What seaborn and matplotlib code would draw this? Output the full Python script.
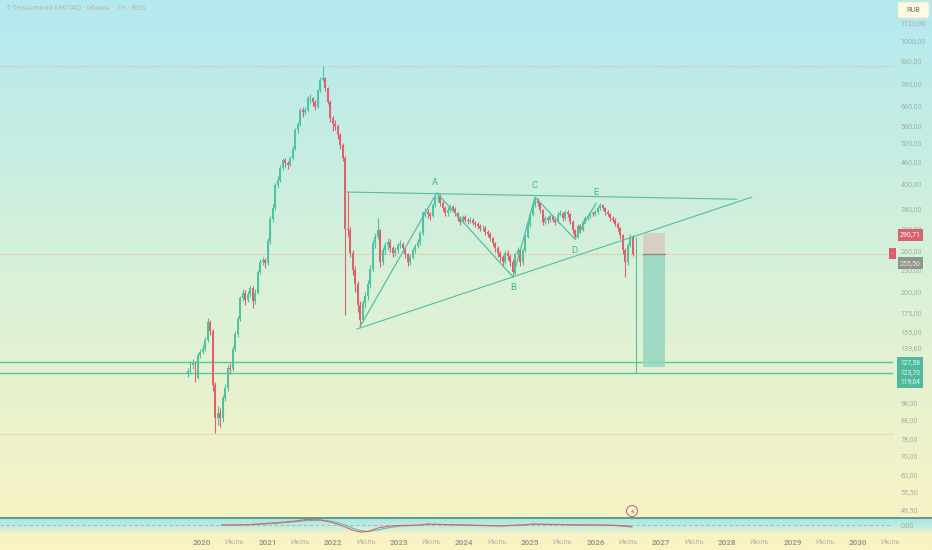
import numpy as np
import pandas as pd
import matplotlib
matplotlib.use("Agg")
import matplotlib.pyplot as plt
import matplotlib.dates as mdates
from matplotlib.colors import LinearSegmentedColormap
from matplotlib.patches import Circle, FancyBboxPatch
from matplotlib.ticker import NullLocator
import seaborn as sns

# ---- price data (2-week candles) ----
first_date = "2019-10-15"
last_date = "2026-07-27"
first_open = 118
closes = [120, 125, 127, 115, 133, 136, 139, 147, 165, 156,
          110, 89, 92, 89, 101, 108, 123, 122, 139, 153,
          168, 192, 199, 190, 197, 205, 188, 199, 227, 242,
          245, 240, 277, 319, 342, 396, 410, 442, 465, 457,
          452, 472, 500, 563, 585, 641, 634, 641, 691, 691,
          675, 654, 729, 777, 786, 738, 675, 609, 585, 578,
          546, 511, 472, 300, 297, 256, 230, 210, 184, 167,
          186, 195, 210, 232, 273, 285, 297, 242, 261, 270,
          275, 264, 256, 261, 270, 272, 264, 254, 242, 250,
          261, 268, 275, 291, 331, 333, 329, 325, 349, 365,
          367, 353, 342, 331, 338, 344, 340, 331, 320, 313,
          323, 317, 315, 317, 311, 309, 305, 301, 301, 293,
          290, 282, 273, 264, 256, 250, 242, 257, 251, 242,
          227, 254, 261, 242, 261, 285, 307, 328, 349, 360,
          353, 338, 313, 320, 317, 325, 317, 313, 328, 331,
          320, 333, 329, 313, 297, 285, 305, 297, 313, 320,
          325, 331, 329, 333, 342, 349, 342, 333, 329, 320,
          317, 309, 301, 287, 261, 242, 270, 284, 255.5]
highs = [123, 128, 130, 128, 135, 139, 142, 150, 169, 167,
         158, 112, 96, 95, 103, 111, 125, 127, 141, 156,
         171, 195, 204, 202, 201, 209, 207, 203, 230, 246,
         250, 249, 282, 325, 350, 402, 420, 450, 472, 470,
         462, 478, 508, 570, 595, 650, 655, 652, 700, 712,
         698, 682, 736, 790, 850, 792, 745, 682, 618, 600,
         585, 552, 518, 478, 379, 302, 262, 236, 214, 188,
         190, 200, 215, 238, 278, 292, 320, 300, 266, 276,
         282, 280, 268, 266, 274, 278, 276, 267, 257, 254,
         265, 272, 280, 296, 336, 342, 340, 334, 354, 370,
         377, 375, 358, 346, 344, 350, 348, 344, 334, 324,
         327, 327, 321, 322, 320, 315, 313, 309, 306, 304,
         297, 293, 285, 276, 268, 260, 253, 262, 261, 254,
         246, 258, 266, 263, 265, 290, 312, 334, 354, 367,
         364, 356, 341, 326, 325, 330, 328, 321, 333, 337,
         334, 338, 337, 332, 316, 300, 309, 308, 317, 325,
         329, 335, 335, 338, 347, 353, 352, 345, 337, 332,
         324, 320, 312, 303, 289, 264, 274, 290, 287]
lows = [116, 118, 122, 112, 114, 131, 134, 137, 145, 152,
        106, 81, 85, 84, 87, 99, 106, 118, 120, 137,
        150, 166, 188, 184, 187, 194, 180, 185, 197, 224,
        238, 233, 238, 272, 312, 338, 390, 405, 436, 445,
        440, 447, 466, 495, 555, 578, 615, 625, 635, 672,
        660, 640, 650, 722, 770, 725, 665, 595, 560, 565,
        532, 500, 462, 172, 285, 250, 222, 200, 176, 160,
        165, 180, 190, 205, 228, 265, 280, 235, 238, 255,
        262, 258, 250, 252, 257, 265, 258, 248, 236, 238,
        246, 256, 264, 270, 288, 322, 320, 316, 322, 344,
        356, 347, 336, 325, 326, 333, 334, 326, 314, 307,
        310, 312, 309, 310, 306, 303, 299, 296, 295, 288,
        284, 277, 268, 258, 250, 244, 236, 239, 245, 236,
        220, 224, 250, 236, 238, 258, 282, 303, 324, 345,
        346, 332, 306, 308, 311, 313, 312, 307, 310, 324,
        315, 317, 323, 308, 292, 280, 283, 292, 295, 310,
        316, 321, 324, 326, 330, 338, 337, 328, 324, 315,
        312, 304, 296, 281, 255, 220, 238, 266, 252]

# ---- drawings ----
tri_top_dates = ["2022-03-18", "2028-02-26"]
tri_top_prices = [379, 362]
tri_bot_dates = ["2022-05-13", "2028-05-20"]
tri_bot_prices = [157.5, 367]
wave_dates = ["2022-05-30", "2023-07-31", "2024-09-27", "2025-01-28", "2025-09-08", "2026-01-03"]
wave_prices = [160, 377, 220, 367, 280, 353]
wave_labels = ["A", "B", "C", "D", "E"]
label_dates = ["2023-07-20", "2024-09-27", "2025-01-23", "2025-09-03", "2026-01-03"]
label_prices = [402, 205, 394, 260, 379]

ath_level = 850
low_level = 80.3
last_price = 255.5
support_levels = [127.58, 119.04]
stop_price = 290.71
entry_price = 255.5
target_price = 123.70
pos_dates = ["2026-09-21", "2027-01-22"]
drop_date = "2026-08-13"
drop_prices = [284, 119.04]

price_ticks = [1120, 1000, 880, 760, 660, 580, 520, 460, 400, 340, 300, 260,
               230, 200, 175, 155, 139.6, 98, 88, 78, 70, 62, 55.5, 49.5]

# ---- oscillator pane ----
osc_dates = ["2020-04-20", "2020-07-01", "2020-09-24", "2020-12-17", "2021-03-11",
             "2021-06-03", "2021-08-08", "2021-10-20", "2021-12-15", "2022-01-22",
             "2022-03-08", "2022-04-16", "2022-05-30", "2022-07-14", "2022-09-06",
             "2022-11-13", "2023-01-08", "2023-04-28", "2023-06-06", "2023-08-17",
             "2023-12-06", "2024-03-27", "2024-07-16", "2024-11-04", "2025-01-17",
             "2025-04-20", "2025-10-04", "2026-01-25", "2026-04-20", "2026-07-22"]
osc_macd = [0, 0, 0.5, 1.5, 2.5, 4, 5.5, 5, 3, 1, -2, -5, -7, -6.5, -3,
            -1, -0.5, 0, 1, 0.5, 0, -0.5, -1, 0, 1, 0.5, 0, 0, -0.5, -2]
osc_signal = [0, 0, 0.3, 1, 2, 3.2, 4.5, 5, 4, 2.5, 0, -3, -5.5, -6.5, -5,
              -2.5, -1, -0.3, 0.5, 0.6, 0.2, -0.3, -0.8, -0.3, 0.6, 0.7, 0.2, 0, -0.2, -1]

title = "Т-Технологии МКПАО · обыкн. · 1H · RUS"

UP = "#4fc3a1"
DOWN = "#e0606e"
TEAL = "#52c0a2"

sns.set_style("white")
plt.rcParams["font.family"] = ["Roboto", "DejaVu Sans"]


def dn(s):
    return mdates.date2num(pd.Timestamp(s))


fig = plt.figure(figsize=(9.32, 5.5), dpi=100)

# background gradient + decorations in pixel space
bg = fig.add_axes([0, 0, 1, 1], zorder=0)
bg_cmap = LinearSegmentedColormap.from_list("bg", ["#b3e9f0", "#d8f1d8", "#fcf3c2"])
bg.imshow(np.linspace(0, 1, 256).reshape(-1, 1), cmap=bg_cmap, extent=(0, 932, 550, 0), aspect="auto")
band_cmap = LinearSegmentedColormap.from_list("band", ["#a9e5e6", "#c2ecdf", "#fcf3c2"])
bg.imshow(np.linspace(0, 1, 64).reshape(-1, 1), cmap=band_cmap, extent=(0, 932, 535, 518), aspect="auto")
bg.plot([0, 932], [517.5, 517.5], color="#5e9c8e", lw=1.4)
bg.text(6, 8, title, fontsize=5.3, color="#c2b79f", va="center", ha="left")
bg.add_patch(FancyBboxPatch((898, 2), 31, 16, boxstyle="round,pad=0,rounding_size=2",
                            fc="#fffbe3", ec="#eee8c4", lw=0.6))
bg.text(913.5, 10.5, "RUB", fontsize=5.2, color="#70705f", ha="center", va="center")
bg.add_patch(Circle((632, 511), 5.5, fc="#fdf6d8", ec="#b8606a", lw=0.7))
bg.text(632, 511.5, "⚡", fontsize=5.5, color="#d04a5a", ha="center", va="center",
        family=["DejaVu Sans"])
bg.set_xlim(0, 932)
bg.set_ylim(550, 0)
bg.axis("off")

# main price pane
x0 = dn("2020-01-01")
px_per_day = 65.6 / 365.25
xlim = (x0 - 202 / px_per_day, x0 + 691 / px_per_day)

ax = fig.add_axes([0, 1 - 517 / 550, 893 / 932, 517 / 550], zorder=2)
ax.set_facecolor("none")
ax.set_yscale("log")

x = mdates.date2num(pd.date_range(first_date, last_date, periods=len(closes)))
opens = [first_open] + closes[:-1]
o = np.array(opens, dtype=float)
c = np.array(closes, dtype=float)
colors = [UP if cc >= oo else DOWN for oo, cc in zip(o, c)]
ax.vlines(x, lows, highs, colors=colors, lw=0.8, zorder=3)
ax.bar(x, np.maximum(np.abs(c - o), 0.6), bottom=np.minimum(o, c), width=11,
       color=colors, linewidth=0, zorder=4)

# horizontal levels
ax.axhline(ath_level, color="#e2b8a8", lw=0.8, ls=(0, (1, 1.5)), zorder=2)
ax.axhline(low_level, color="#d8b8a8", lw=0.8, ls=(0, (1, 1.5)), zorder=2)
ax.axhline(last_price, color="#eeaa88", lw=0.8, ls=(0, (1, 1.5)), zorder=2)
for lvl in support_levels:
    ax.axhline(lvl, color="#58c4a6", lw=1.0, zorder=2)

# triangle and wave
tri = pd.DataFrame({"date": [dn(s) for s in tri_top_dates], "price": tri_top_prices})
sns.lineplot(data=tri, x="date", y="price", ax=ax, color=TEAL, lw=0.8, estimator=None, zorder=5)
tri = pd.DataFrame({"date": [dn(s) for s in tri_bot_dates], "price": tri_bot_prices})
sns.lineplot(data=tri, x="date", y="price", ax=ax, color=TEAL, lw=0.8, estimator=None, zorder=5)
wave = pd.DataFrame({"date": [dn(s) for s in wave_dates], "price": wave_prices})
sns.lineplot(data=wave, x="date", y="price", ax=ax, color=TEAL, lw=0.9, estimator=None,
             sort=False, zorder=5)
for lab, d, p in zip(wave_labels, label_dates, label_prices):
    ax.text(dn(d), p, lab, color="#3fb898", fontsize=6.8, ha="center", va="center", zorder=6)

# short position box
p0, p1 = dn(pos_dates[0]), dn(pos_dates[1])
ax.fill_between([p0, p1], entry_price, stop_price, color="#d8d1c1", lw=0, zorder=3)
ax.fill_between([p0, p1], target_price, entry_price, color="#95d6c2", alpha=0.85, lw=0, zorder=3)
ax.plot([p0, p1], [entry_price, entry_price], color="#8c8f86", lw=1.0, zorder=4)
ax.vlines(dn(drop_date), drop_prices[1], drop_prices[0], color=TEAL, lw=0.8, zorder=4)

ax.set_xlim(*xlim)
ax.set_ylim(47.2, 1298)
ax.set_xticks([])
ax.set_xlabel("")
ax.set_ylabel("")
ax.yaxis.tick_right()
ax.yaxis.set_minor_locator(NullLocator())
ax.set_yticks(price_ticks)
ax.set_yticklabels([f"{v:.2f}".replace(".", ",") for v in price_ticks])
ax.tick_params(axis="y", which="both", length=0, pad=5.5, labelsize=5.2, labelcolor="#a6b0ab")
for s in ax.spines.values():
    s.set_visible(False)

# right-side price labels
lx = 900 / 893
ax.annotate("290,71", xy=(lx, stop_price), xycoords=("axes fraction", "data"),
            xytext=(0, -1), textcoords="offset points", fontsize=5.0, color="#ffffff",
            ha="left", va="center", zorder=8,
            bbox=dict(boxstyle="square,pad=0.35", fc="#d9616d", ec="none"))
ax.annotate("255,50", xy=(lx, entry_price), xycoords=("axes fraction", "data"),
            xytext=(0, -7), textcoords="offset points", fontsize=5.0, color="#eef0ea",
            ha="left", va="center", zorder=8,
            bbox=dict(boxstyle="square,pad=0.35", fc="#8f958d", ec="none"))
ax.annotate("-", xy=(892.5 / 893, last_price), xycoords=("axes fraction", "data"),
            fontsize=4, color="#ffffff", ha="center", va="center", zorder=8,
            bbox=dict(boxstyle="square,pad=0.5", fc="#d9616d", ec="none"))
ax.annotate("127,58\n123,70\n119,04", xy=(lx, target_price), xycoords=("axes fraction", "data"),
            xytext=(0, -4), textcoords="offset points", fontsize=4.8,
            color="#eaf8f2", ha="left", va="center", linespacing=1.45, zorder=8,
            bbox=dict(boxstyle="square,pad=0.45", fc="#4fba9c", ec="none"))

# oscillator pane
ind = fig.add_axes([0, 1 - 533 / 550, 893 / 932, 15 / 550], zorder=2)
ind.set_facecolor("none")
osc = pd.DataFrame({"date": [dn(s) for s in osc_dates], "macd": osc_macd, "signal": osc_signal})
ind.axhline(0, color="#a8b0aa", lw=0.6, ls=(0, (4, 3)))
sns.lineplot(data=osc, x="date", y="signal", ax=ind, color="#5ac4a8", lw=0.8, estimator=None)
sns.lineplot(data=osc, x="date", y="macd", ax=ind, color=DOWN, lw=0.8, estimator=None)
ind.set_xlim(*xlim)
ind.set_ylim(-8, 7)
ind.set_xlabel("")
ind.set_ylabel("")
ind.yaxis.tick_right()
ind.set_yticks([0])
ind.set_yticklabels(["0,00"])
ind.tick_params(axis="y", length=0, pad=5.5, labelsize=5.2, labelcolor="#a6b0ab")
for s in ind.spines.values():
    s.set_visible(False)

tick_pos, tick_lab = [], []
for yr in range(2020, 2031):
    tick_pos += [dn(f"{yr}-01-01"), dn(f"{yr}-07-01")]
    tick_lab += [str(yr), "Июль"]
ind.set_xticks(tick_pos)
ind.set_xticklabels(tick_lab)
ind.tick_params(axis="x", length=0, pad=4.0, labelsize=5.8)
for t in ind.get_xticklabels():
    if t.get_text() == "Июль":
        t.set_color("#b5b5ad")
        t.set_fontsize(5.3)
    else:
        t.set_color("#9a9a96")
        t.set_fontweight("bold")

fig.savefig("out.png", dpi=100)
